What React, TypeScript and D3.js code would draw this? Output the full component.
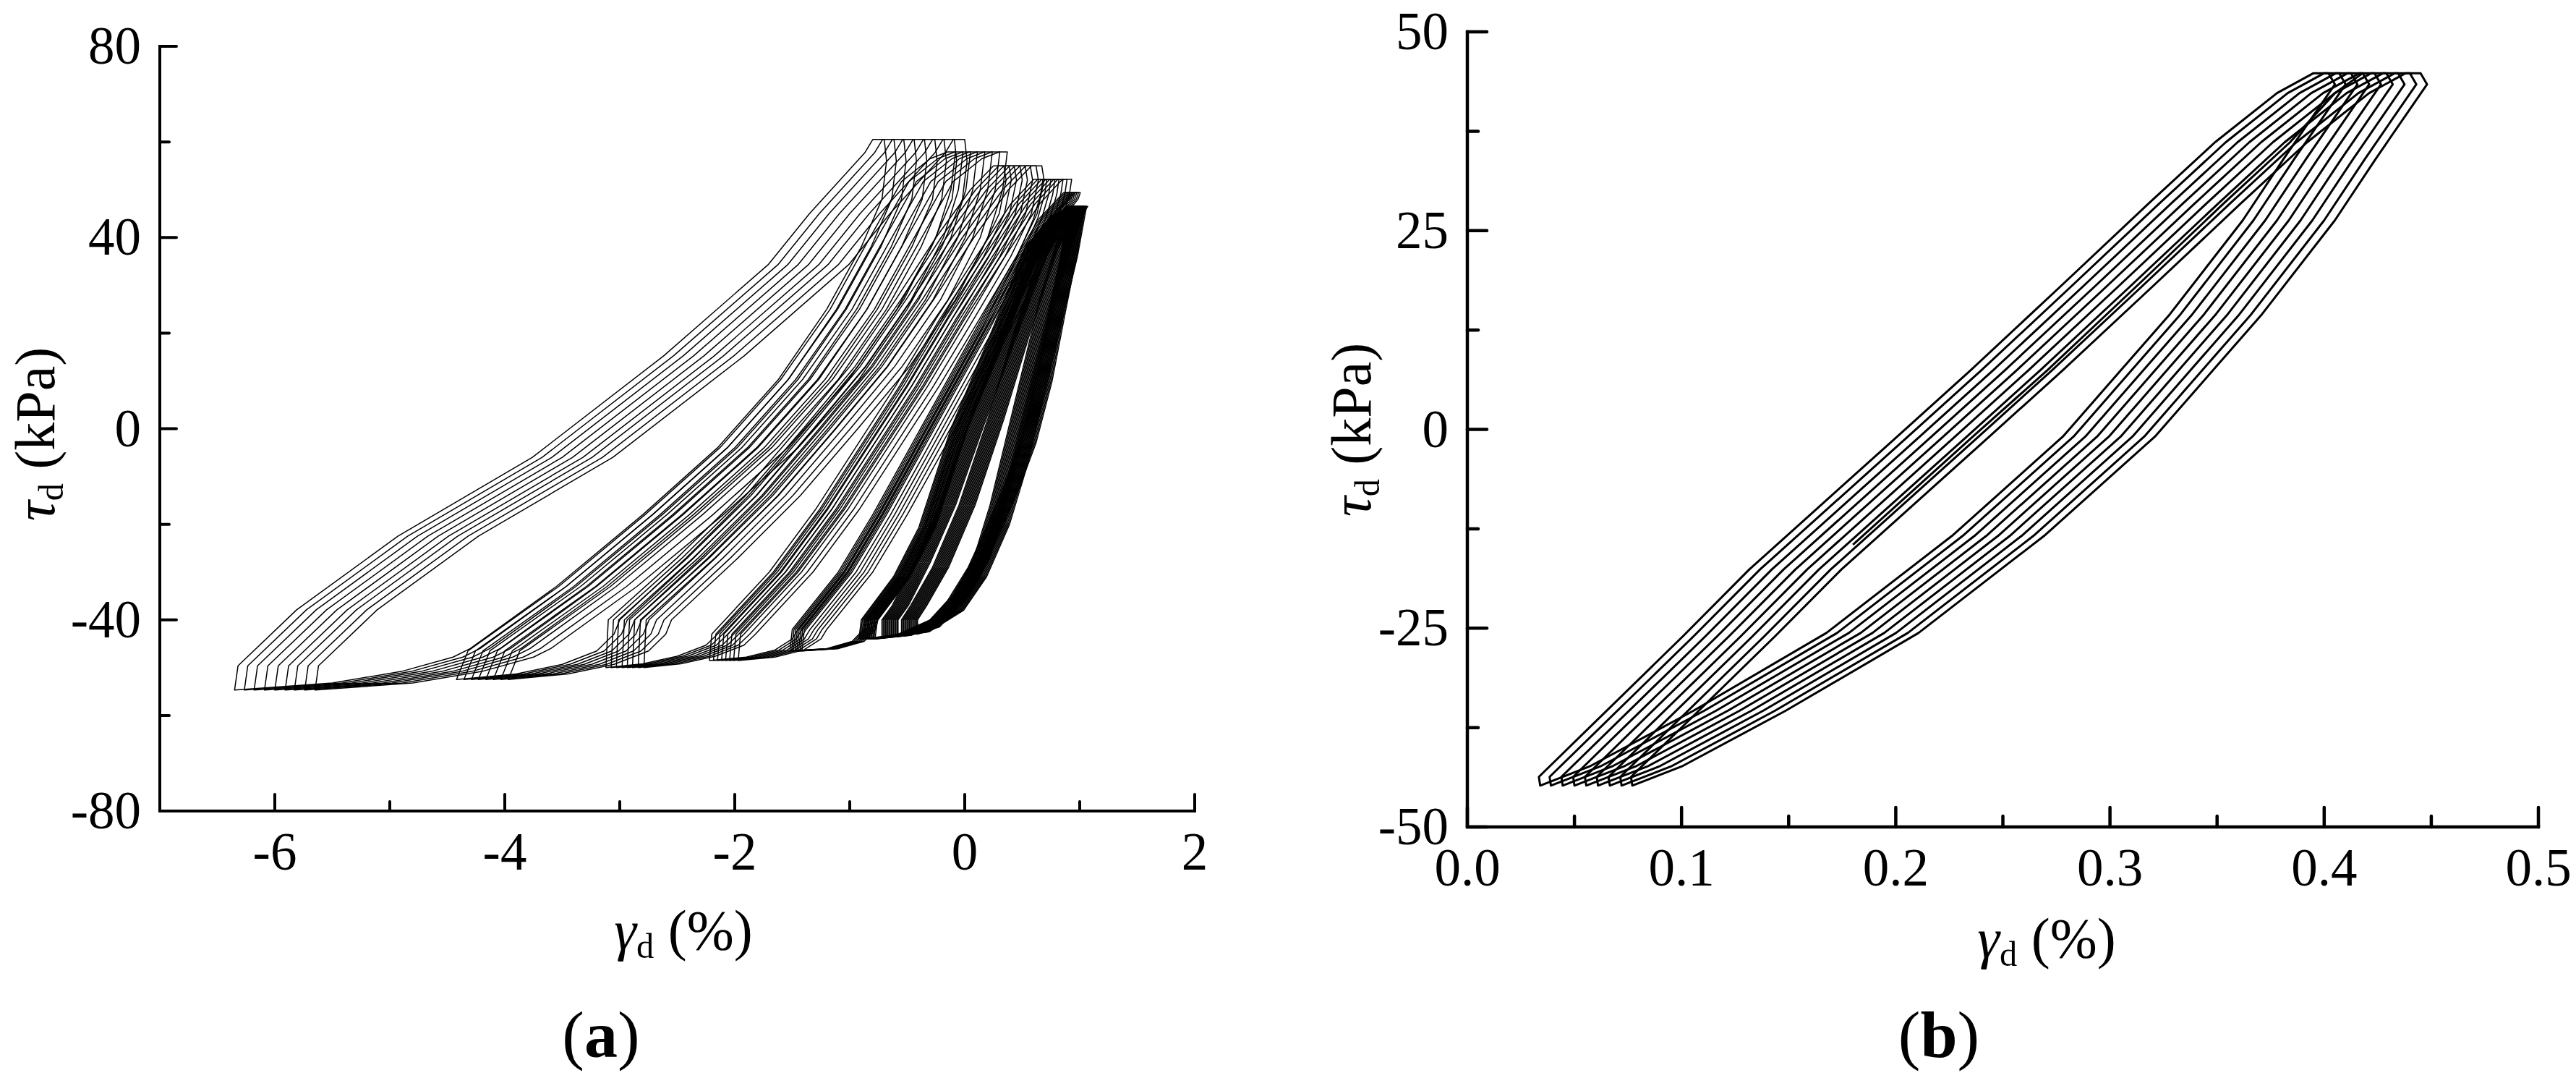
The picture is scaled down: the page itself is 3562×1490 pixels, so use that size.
import React from 'react';
import * as d3 from 'd3';

type Pt = [number, number];

// ---------------- Panel (a) data ----------------
const aXMajor = [-6, -4, -2, 0, 2];
const aXMinor = [-5, -3, -1, 1];
const aYMajor = [-80, -40, 0, 40, 80];
const aYMinor = [-60, -20, 20, 60];

// Each loading stage: loading branch (valley -> peak) and unloading branch (peak -> valley)
// of its first (leftmost) cycle, [γd %, τd kPa], plus the γ offset of every cycle.

// Stage A (peak ≈ 60.5 kPa)
const stageALoad: Pt[] = [[-6.35, -54.7], [-5.5, -53.2], [-4.9, -50.8], [-4.45, -47.8], [-4.3, -46], [-3.55, -33], [-2.8, -18], [-2.15, -4], [-1.62, 10.3], [-1.2, 25], [-0.9, 38], [-0.72, 48], [-0.68, 56], [-0.7, 60.5]];
const stageAUnload: Pt[] = [[-0.8, 60.5], [-0.87, 57.7], [-1.35, 45], [-1.71, 34.3], [-2.62, 15.2], [-3.76, -6], [-4.93, -22.5], [-5.81, -37.9], [-6.32, -49.6]];
const stageAShifts = [0, 0.085, 0.17, 0.26, 0.35, 0.44, 0.52, 0.61, 0.7];

// Stage B (peak ≈ 58 kPa)
const stageBLoad: Pt[] = [[-4.42, -52.5], [-3.9, -51.3], [-3.5, -49.3], [-3.2, -46.5], [-3.05, -43], [-3.0, -40], [-2.42, -27], [-1.88, -14], [-1.38, 0], [-0.93, 13], [-0.53, 27], [-0.25, 40], [-0.12, 50], [-0.08, 57.9]];
const stageBUnload: Pt[] = [[-0.15, 57.9], [-0.3, 56.5], [-0.55, 51.7], [-0.87, 38], [-1.17, 25], [-1.6, 10.3], [-2.13, -4], [-2.78, -18], [-3.53, -33], [-4.32, -46.5]];
const stageBShifts = [0, 0.065, 0.13, 0.19, 0.255, 0.32, 0.385, 0.45];

// Stage C (peak ≈ 55 kPa)
const stageCLoad: Pt[] = [[-3.12, -50], [-2.8, -49.2], [-2.5, -47.6], [-2.25, -45.3], [-2.15, -43], [-1.65, -30], [-1.25, -17], [-0.9, -4], [-0.55, 9], [-0.2, 23], [0.12, 36], [0.3, 45], [0.36, 52], [0.34, 55]];
const stageCUnload: Pt[] = [[0.25, 55], [0.05, 50], [-0.25, 40], [-0.6, 27], [-1.0, 13], [-1.45, 0], [-1.95, -14], [-2.5, -27], [-3.1, -40]];
const stageCShifts = [0, 0.045, 0.09, 0.14, 0.185, 0.23, 0.28, 0.33];

// Stage D (peak ≈ 52 kPa)
const stageDLoad: Pt[] = [[-2.22, -48.5], [-1.9, -47.8], [-1.65, -46.3], [-1.5, -44], [-1.45, -42], [-1.05, -30], [-0.75, -18], [-0.45, -5], [-0.15, 8], [0.15, 21], [0.42, 34], [0.6, 44], [0.66, 49], [0.68, 52.2]];
const stageDUnload: Pt[] = [[0.6, 52.2], [0.4, 47], [0.1, 36], [-0.25, 23], [-0.6, 9], [-0.95, -4], [-1.3, -17], [-1.7, -30], [-2.2, -43]];
const stageDShifts = [0, 0.035, 0.07, 0.105, 0.14, 0.175, 0.21, 0.25];

// Stage E (peak ≈ 49.5 kPa)
const stageELoad: Pt[] = [[-1.52, -46.5], [-1.2, -46], [-0.98, -44.5], [-0.88, -42], [-0.86, -40], [-0.58, -31], [-0.36, -20.7], [-0.08, 0], [0.28, 20.7], [0.56, 38], [0.78, 45], [0.88, 48], [0.9, 49.4]];
const stageEUnload: Pt[] = [[0.86, 49.4], [0.65, 44], [0.4, 34], [0.1, 21], [-0.2, 8], [-0.5, -5], [-0.8, -18], [-1.1, -30], [-1.5, -42]];
const stageEShifts = [0, 0.015, 0.03, 0.045, 0.06, 0.075, 0.09, 0.105];

// Stage F (peak ≈ 46.5 kPa) – three families of cycles
const stageF1Load: Pt[] = [[-0.92, -44], [-0.6, -43.2], [-0.3, -40], [-0.1, -35], [0.08, -27], [0.22, -16], [0.35, -3], [0.5, 12], [0.65, 27], [0.8, 39], [0.9, 45.5], [0.93, 46.5]];
const stageF1Unload: Pt[] = [[0.92, 46.5], [0.75, 44.5], [0.53, 38], [0.24, 20.7], [-0.12, 0], [-0.4, -20.7], [-0.62, -31], [-0.9, -40]];
const stageF2Load: Pt[] = [[-0.72, -43.5], [-0.45, -42.5], [-0.15, -38], [0.05, -31], [0.25, -20], [0.4, -8], [0.55, 7], [0.7, 22], [0.84, 36], [0.9, 44], [0.92, 46.5]];
const stageF2Unload: Pt[] = [[0.9, 46.5], [0.76, 44], [0.57, 36], [0.32, 20], [0.03, 1], [-0.22, -16], [-0.44, -28], [-0.63, -37], [-0.72, -40]];
const stageF3Load: Pt[] = [[-0.55, -43], [-0.36, -41.5], [-0.15, -36], [0.03, -29], [0.2, -20], [0.34, -12], [0.48, -3], [0.62, 10], [0.74, 25], [0.84, 37], [0.89, 44], [0.91, 46.5]];
const stageF3Unload: Pt[] = [[0.88, 46.5], [0.8, 44], [0.66, 37], [0.44, 21], [0.2, 2], [-0.05, -16], [-0.28, -29], [-0.47, -37], [-0.55, -40]];
const stageFShifts = [0, 0.01, 0.02, 0.03, 0.04, 0.05, 0.06, 0.07, 0.08, 0.09, 0.1, 0.11, 0.12, 0.13, 0.14];

// ---------------- Panel (b) data ----------------
const bXMajor = [0, 0.1, 0.2, 0.3, 0.4, 0.5];
const bXMinor = [0.05, 0.15, 0.25, 0.35, 0.45];
const bYMajor = [-50, -25, 0, 25, 50];
const bYMinor = [-37.5, -12.5, 12.5, 37.5];

const loopBLoad: Pt[] = [[0.034, -44.8], [0.057, -42.4], [0.1055, -35.4], [0.1676, -25.6], [0.2262, -13.4], [0.278, -0.9], [0.328, 14.5], [0.362, 26.3], [0.381, 34.0], [0.405, 43.4], [0.402, 44.8]];
const loopBUnload: Pt[] = [[0.395, 44.8], [0.378, 42.3], [0.349, 36.1], [0.318, 28.4], [0.2766, 17.9], [0.2352, 7.5], [0.2007, -0.9], [0.1317, -17.6], [0.1007, -26.0], [0.0334, -43.7]];
const loopBShifts = [0, 0.005, 0.0105, 0.016, 0.0215, 0.027, 0.0325, 0.038, 0.043];
const initialB: Pt[] = [[0.18, -14.5], [0.236, -0.9], [0.271, 7.5], [0.312, 17.9], [0.353, 28.4], [0.384, 36.1], [0.405, 42.3], [0.418, 44.8]];

// ---------------- layout ----------------
const W = 3562;
const H = 1490;
const FONT = "'Liberation Serif', 'Times New Roman', serif";
const TICK_FS = 73;
const TITLE_FS = 78;
const CAP_FS = 92;

const xA = d3.scaleLinear().domain([-7, 2]).range([221, 1652]);
const yA = d3.scaleLinear().domain([-80, 80]).range([1121, 64]);
const xB = d3.scaleLinear().domain([0, 0.5]).range([2029, 3510]);
const yB = d3.scaleLinear().domain([-50, 50]).range([1143, 44]);

type Scale = d3.ScaleLinear<number, number>;

function Axes(props: {
  x: Scale; y: Scale; xMajor: number[]; xMinor: number[]; yMajor: number[]; yMinor: number[];
  xFmt: (v: number) => string; majorLen: number; minorLen: number; sw: number;
}) {
  const { x, y, xMajor, xMinor, yMajor, yMinor, xFmt, majorLen, minorLen, sw } = props;
  const [x0, x1] = x.range();
  const [y0, y1] = y.range();
  return (
    <g>
      <path d={`M${x0},${y1}V${y0}H${x1}`} fill="none" stroke="#000" strokeWidth={sw} strokeLinecap="square" />
      {xMajor.map((v) => (
        <line key={'xM' + v} x1={x(v)} x2={x(v)} y1={y0} y2={y0 - majorLen} stroke="#000" strokeWidth={sw} strokeLinecap="round" />
      ))}
      {xMinor.map((v) => (
        <line key={'xm' + v} x1={x(v)} x2={x(v)} y1={y0} y2={y0 - minorLen} stroke="#000" strokeWidth={sw} strokeLinecap="round" />
      ))}
      {yMajor.map((v) => (
        <line key={'yM' + v} x1={x0} x2={x0 + majorLen} y1={y(v)} y2={y(v)} stroke="#000" strokeWidth={sw} strokeLinecap="round" />
      ))}
      {yMinor.map((v) => (
        <line key={'ym' + v} x1={x0} x2={x0 + minorLen} y1={y(v)} y2={y(v)} stroke="#000" strokeWidth={sw} strokeLinecap="round" />
      ))}
      {xMajor.map((v) => (
        <text key={'xl' + v} x={x(v)} y={y0 + 81} textAnchor="middle" fontSize={TICK_FS} fontFamily={FONT}>{xFmt(v)}</text>
      ))}
      {yMajor.map((v) => (
        <text key={'yl' + v} x={x0 - 26} y={y(v) + 24} textAnchor="end" fontSize={TICK_FS} fontFamily={FONT}>{String(v)}</text>
      ))}
    </g>
  );
}

function loopPath(x: Scale, y: Scale, load: Pt[], unload: Pt[], s: number): string {
  const line = d3.line<Pt>().x((p) => x(p[0] + s)).y((p) => y(p[1]));
  return (line([...load, ...unload]) || '') + 'Z';
}

const stagesA = [
  { load: stageALoad, unload: stageAUnload, shifts: stageAShifts },
  { load: stageBLoad, unload: stageBUnload, shifts: stageBShifts },
  { load: stageCLoad, unload: stageCUnload, shifts: stageCShifts },
  { load: stageDLoad, unload: stageDUnload, shifts: stageDShifts },
  { load: stageELoad, unload: stageEUnload, shifts: stageEShifts },
  { load: stageF1Load, unload: stageF1Unload, shifts: stageFShifts },
  { load: stageF2Load, unload: stageF2Unload, shifts: stageFShifts },
  { load: stageF3Load, unload: stageF3Unload, shifts: stageFShifts },
];

function XTitle({ cx, y }: { cx: number; y: number }) {
  return (
    <text x={cx} y={y} textAnchor="middle" fontSize={TITLE_FS} fontFamily={FONT}>
      <tspan fontStyle="italic">γ</tspan>
      <tspan fontSize={TITLE_FS * 0.62} dy={12}>d</tspan>
      <tspan dy={-12}> (%)</tspan>
    </text>
  );
}

function YTitle({ x, cy }: { x: number; cy: number }) {
  return (
    <text transform={`translate(${x},${cy}) rotate(-90)`} textAnchor="middle" fontSize={TITLE_FS} fontFamily={FONT}>
      <tspan fontStyle="italic">τ</tspan>
      <tspan fontSize={TITLE_FS * 0.62} dy={12}>d</tspan>
      <tspan dy={-12}> (kPa)</tspan>
    </text>
  );
}

export default function App() {
  const lineB = d3.line<Pt>().x((p) => xB(p[0])).y((p) => yB(p[1]));
  return (
    <svg width={W} height={H} viewBox={`0 0 ${W} ${H}`} style={{ position: 'absolute', left: 0, top: 0, background: '#fff' }}>
      <rect width={W} height={H} fill="#fff" />
      {/* Panel (a) */}
      <g fill="none" stroke="#000" strokeWidth={1.5} strokeLinejoin="round">
        {stagesA.map((st, i) =>
          st.shifts.map((s, j) => <path key={`a${i}-${j}`} d={loopPath(xA, yA, st.load, st.unload, s)} />)
        )}
      </g>
      <Axes x={xA} y={yA} xMajor={aXMajor} xMinor={aXMinor} yMajor={aYMajor} yMinor={aYMinor}
        xFmt={(v) => String(v)} majorLen={23} minorLen={13} sw={4} />
      <XTitle cx={945} y={1312} />
      <YTitle x={75} cy={600} />
      <text x={831} y={1461} textAnchor="middle" fontSize={CAP_FS} fontFamily={FONT}>
        (<tspan fontWeight="bold">a</tspan>)
      </text>

      {/* Panel (b) */}
      <g fill="none" stroke="#000" strokeWidth={3} strokeLinejoin="round">
        {loopBShifts.map((s, j) => <path key={`b${j}`} d={loopPath(xB, yB, loopBLoad, loopBUnload, s)} />)}
        <path d={lineB(initialB) || ''} />
      </g>
      <Axes x={xB} y={yB} xMajor={bXMajor} xMinor={bXMinor} yMajor={bYMajor} yMinor={bYMinor}
        xFmt={d3.format('.1f')} majorLen={27} minorLen={15} sw={4.5} />
      <XTitle cx={2830} y={1323} />
      <YTitle x={1895} cy={594} />
      <text x={2681} y={1461} textAnchor="middle" fontSize={CAP_FS} fontFamily={FONT}>
        (<tspan fontWeight="bold">b</tspan>)
      </text>
    </svg>
  );
}
